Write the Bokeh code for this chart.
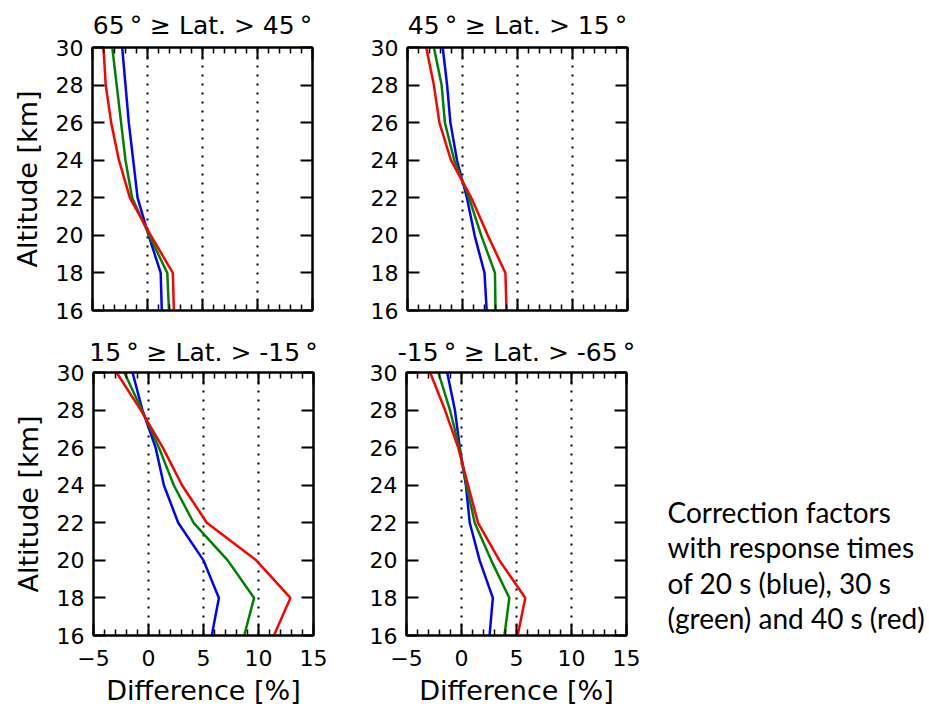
from bokeh.plotting import figure
from bokeh.layouts import column, row
from bokeh.models import (LinearAxis, FixedTicker, SingleIntervalTicker, Range1d,
                          ColumnDataSource)
from bokeh.core.properties import value
from bokeh.embed import file_html
from bokeh.resources import INLINE

# ---------------- data ----------------
altitude = [16, 18, 20, 22, 24, 26, 28, 30]

titles = ["65\u2009° ≥ Lat. > 45\u2009°", "45\u2009° ≥ Lat. > 15\u2009°",
          "15\u2009° ≥ Lat. > -15\u2009°", "-15\u2009° ≥ Lat. > -65\u2009°"]

p1_blue = [1.3, 1.2, 0.1, -0.9, -1.3, -1.7, -2.0, -2.3]
p1_green = [1.95, 1.8, 0.15, -1.4, -2.0, -2.4, -2.8, -3.2]
p1_red = [2.4, 2.3, 0.3, -1.6, -2.6, -3.3, -3.8, -4.0]

p2_blue = [2.2, 2.0, 1.1, 0.4, -0.5, -1.1, -1.4, -1.8]
p2_green = [3.0, 2.95, 1.7, 0.6, -0.75, -1.6, -1.9, -2.6]
p2_red = [4.0, 3.9, 2.3, 0.8, -1.05, -2.1, -2.6, -3.3]

p3_blue = [5.75, 6.4, 5.0, 2.7, 1.4, 0.65, -0.55, -1.45]
p3_green = [8.7, 9.6, 7.2, 4.1, 2.3, 0.95, -0.6, -2.2]
p3_red = [11.4, 12.9, 9.8, 5.3, 3.05, 1.3, -0.7, -2.9]

p4_blue = [2.55, 2.85, 1.65, 0.75, 0.4, -0.15, -0.6, -1.3]
p4_green = [3.9, 4.35, 2.7, 1.2, 0.45, -0.2, -1.05, -2.1]
p4_red = [5.1, 5.8, 3.45, 1.5, 0.6, -0.3, -1.5, -2.85]

x_ticks = [-5, 0, 5, 10, 15]
x_tick_labels = ["−5", "0", "5", "10", "15"]
grid_positions = [0, 5, 10]

note_lines = ["Correction factors", "with response times",
              "of 20 s (blue), 30 s", "(green) and 40 s (red)"]

# ---------------- style / layout ----------------
FONT = "DejaVu Sans"
COLORS = ["#0000ff", "#008000", "#ff0000"]
NOTE_X = 10
NOTE_Y = [139, 174.5, 210, 245]   # pixel offsets below the note panel's frame top


def style_axis(ax, show_labels):
    ax.axis_line_width = 2
    ax.axis_line_color = "black"
    ax.major_tick_in = 12
    ax.major_tick_out = 0
    ax.minor_tick_in = 6
    ax.minor_tick_out = 0
    ax.major_tick_line_width = 2
    ax.minor_tick_line_width = 1.5
    ax.major_tick_line_color = "black"
    ax.minor_tick_line_color = "black"
    ax.major_label_text_font = FONT
    if show_labels:
        ax.major_label_text_color = "black"
        ax.major_label_text_font_size = "22px"
        ax.major_label_standoff = 8
    else:
        ax.major_label_text_color = None
        ax.major_label_text_alpha = 0
        ax.major_label_text_font_size = "1px"
        ax.major_label_standoff = 0
    ax.axis_label_text_font = FONT
    ax.axis_label_text_font_size = "27px"
    ax.axis_label_text_font_style = "normal"
    ax.axis_label_text_color = "black"


def make_panel(title, series, width, height, ml, mr, mt, mb,
               xlabels, ylabel, title_standoff):
    p = figure(width=width, height=height, x_range=Range1d(-5, 15),
               y_range=Range1d(16, 30), output_backend="svg",
               toolbar_location=None, min_border_left=ml,
               min_border_right=mr, min_border_top=mt, min_border_bottom=mb)
    p.title.text = title
    p.title.align = "center"
    p.title.text_font = FONT
    p.title.text_font_size = "25px"
    p.title.text_font_style = "normal"
    p.title.text_color = "black"
    p.title.standoff = title_standoff

    p.outline_line_color = "black"
    p.outline_line_width = 2
    p.background_fill_color = "white"
    p.border_fill_color = "white"

    for vals, c in zip(series, COLORS):
        p.line(vals, altitude, line_color=c, line_width=2.5)

    overrides = dict(zip(x_ticks, x_tick_labels))

    xa = p.xaxis[0]
    xa.ticker = SingleIntervalTicker(interval=5, num_minor_ticks=5)
    xa.major_label_overrides = overrides
    style_axis(xa, xlabels)
    if xlabels:
        xa.major_label_standoff = 14
        xa.axis_label = "Difference [%]"
        xa.axis_label_standoff = 6

    ya = p.yaxis[0]
    ya.ticker = SingleIntervalTicker(interval=2, num_minor_ticks=0)
    style_axis(ya, True)
    ya.major_label_standoff = 9
    if ylabel:
        ya.axis_label = "Altitude [km]"
        ya.axis_label_standoff = 10

    top = LinearAxis(ticker=SingleIntervalTicker(interval=5, num_minor_ticks=5))
    style_axis(top, False)
    p.add_layout(top, "above")
    right = LinearAxis(ticker=SingleIntervalTicker(interval=2, num_minor_ticks=0))
    style_axis(right, False)
    p.add_layout(right, "right")

    p.xgrid.ticker = FixedTicker(ticks=grid_positions)
    p.xgrid.grid_line_color = "black"
    p.xgrid.grid_line_width = 2
    p.xgrid.grid_line_dash = "2 7"
    p.ygrid.visible = False
    return p


p1 = make_panel(titles[0], [p1_blue, p1_green, p1_red], 340, 330, 92, 28, 47, 20, False, True, 15)
p2 = make_panel(titles[1], [p2_blue, p2_green, p2_red], 317, 330, 67, 30, 47, 20, False, False, 15)
p3 = make_panel(titles[2], [p3_blue, p3_green, p3_red], 340, 379, 93, 27, 42, 74, True, True, 11)
p4 = make_panel(titles[3], [p4_blue, p4_green, p4_red], 317, 379, 66, 31, 42, 74, True, False, 11)

# note panel to the right of the lower-right plot; its frame lines up with p4's frame
pn = figure(width=272, height=379, x_range=Range1d(0, 272), y_range=Range1d(263, 0),
            output_backend="svg", toolbar_location=None,
            x_axis_type=None, y_axis_type=None,
            min_border_left=0, min_border_right=0,
            min_border_top=42, min_border_bottom=74)
pn.outline_line_color = None
pn.grid.visible = False
note_src = ColumnDataSource(dict(x=[NOTE_X] * len(note_lines), y=NOTE_Y, text=note_lines))
pn.text(x="x", y="y", text="text", source=note_src, text_font=value("Lato"),
        text_font_size="28px", text_color="black", text_baseline="alphabetic",
        text_align="left")

layout = column(row(p1, p2), row(p3, p4, pn))

with open("out.html", "w") as f:
    f.write(file_html(layout, INLINE))
